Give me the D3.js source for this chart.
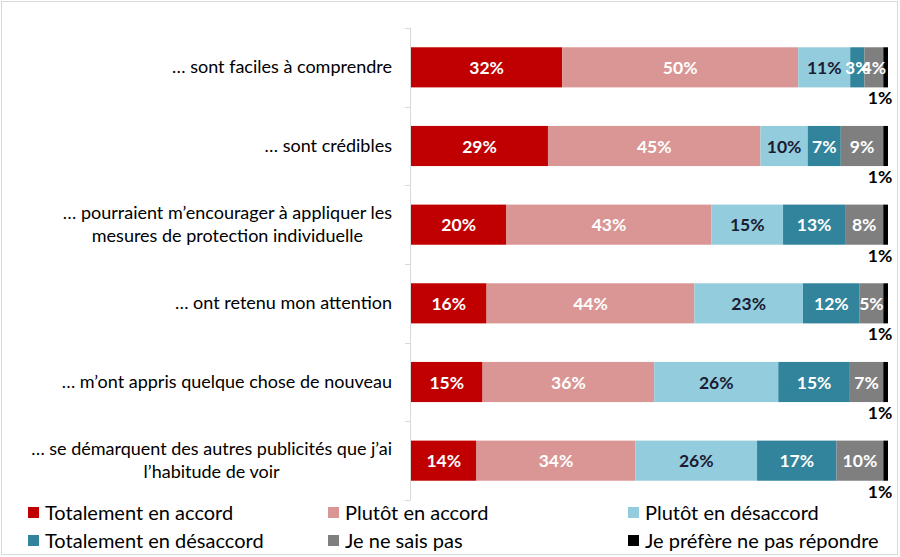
<!DOCTYPE html>
<html><head><meta charset="utf-8">
<script src="https://cdn.jsdelivr.net/npm/d3@7/dist/d3.min.js"></script>
<style>body{margin:0;background:#fff}svg{display:block;font-family:Lato,"Open Sans",sans-serif}</style>
</head><body><svg id="c" width="900" height="557"></svg>
<script>
const categories = [
  ["… sont faciles à comprendre"],
  ["… sont crédibles"],
  ["… pourraient m’encourager à appliquer les", "mesures de protection individuelle"],
  ["… ont retenu mon attention"],
  ["… m’ont appris quelque chose de nouveau"],
  ["… se démarquent des autres publicités que j’ai", "l’habitude de voir"]
];
const seriesNames = ["Totalement en accord","Plutôt en accord","Plutôt en désaccord","Totalement en désaccord","Je ne sais pas","Je préfère ne pas répondre"];
const totalAccord   = [32,29,20,16,15,14];
const plutotAccord  = [50,45,43,44,36,34];
const plutotDesacc  = [11,10,15,23,26,26];
const totalDesacc   = [3,7,13,12,15,17];
const neSaisPas     = [4,9,8,5,7,10];
const neRepondPas   = [1,1,1,1,1,1];
const colors = ["#C00000","#D99694","#93CDDD","#31849B","#7F7F7F","#000000"];
const labelColors = ["#ffffff","#ffffff","#1b1b33","#ffffff","#ffffff","#000000"];

const seriesVals = [totalAccord,plutotAccord,plutotDesacc,totalDesacc,neSaisPas,neRepondPas];
const rows = categories.map((c,i)=>{const o={i};seriesNames.forEach((s,k)=>o[s]=seriesVals[k][i]);return o;});
const stack = d3.stack().keys(seriesNames).offset(d3.stackOffsetExpand)(rows);

const svg = d3.select("#c");
svg.append("rect").attr("x",1.5).attr("y",1.5).attr("width",896).attr("height",553).attr("fill","none").attr("stroke","#d9d9d9");

const x = d3.scaleLinear().domain([0,1]).range([411,888]);
const y = d3.scaleBand().domain(d3.range(categories.length)).range([28,500]).paddingInner(0.49).paddingOuter(0.245);
const step = y.step();

svg.append("line").attr("x1",410.5).attr("x2",410.5).attr("y1",28).attr("y2",500).attr("stroke","#d9d9d9");
svg.selectAll(".tk").data(d3.range(categories.length+1)).join("line")
  .attr("x1",405).attr("x2",410.5)
  .attr("y1",d=>Math.round(28+d*step)+0.5).attr("y2",d=>Math.round(28+d*step)+0.5)
  .attr("stroke","#d9d9d9");

categories.forEach((lines,i)=>{
  const cy = y(i)+y.bandwidth()/2;
  const g = svg.append("text").attr("font-size",18).attr("fill","#000").attr("text-anchor","middle");
  const n = lines.length;
  lines.forEach((l,j)=>{
    g.append("tspan").text(l).attr("y", cy + (j-(n-1)/2)*23 + 6);
  });
  const tspans = g.selectAll("tspan").nodes();
  const w = d3.max(tspans,t=>t.getComputedTextLength());
  tspans.forEach(t=>d3.select(t).attr("x",392-w/2));
});

const layers = svg.selectAll(".layer").data(stack).join("g").attr("fill",(d,k)=>colors[k]);
layers.selectAll("rect").data(d=>d).join("rect")
  .attr("x",d=>x(d[0])).attr("width",d=>x(d[1])-x(d[0]))
  .attr("y",(d,i)=>y(i)).attr("height",y.bandwidth());

stack.forEach((layer,k)=>{
  layer.forEach((d,i)=>{
    const v = seriesVals[k][i];
    const t = svg.append("text").text(v+"%").attr("font-size",17.5).attr("font-weight","bold")
      .attr("text-anchor","middle").attr("fill",labelColors[k]);
    if(k===5){
      t.attr("x",x(d[1])-8).attr("y",y(i)+y.bandwidth()+17);
    } else {
      t.attr("x",(x(d[0])+x(d[1]))/2).attr("y",y(i)+y.bandwidth()/2+6.5);
    }
  });
});

const lg = svg.selectAll(".lg").data(seriesNames).join("g")
  .attr("transform",(d,k)=>`translate(${28+(k%3)*300},${513+Math.floor(k/3)*28})`);
lg.append("rect").attr("x",0).attr("y",-6).attr("width",11).attr("height",11).attr("fill",(d,k)=>colors[k]);
lg.append("text").attr("x",17).attr("y",7).attr("font-size",20).text(d=>d);
</script></body></html>
